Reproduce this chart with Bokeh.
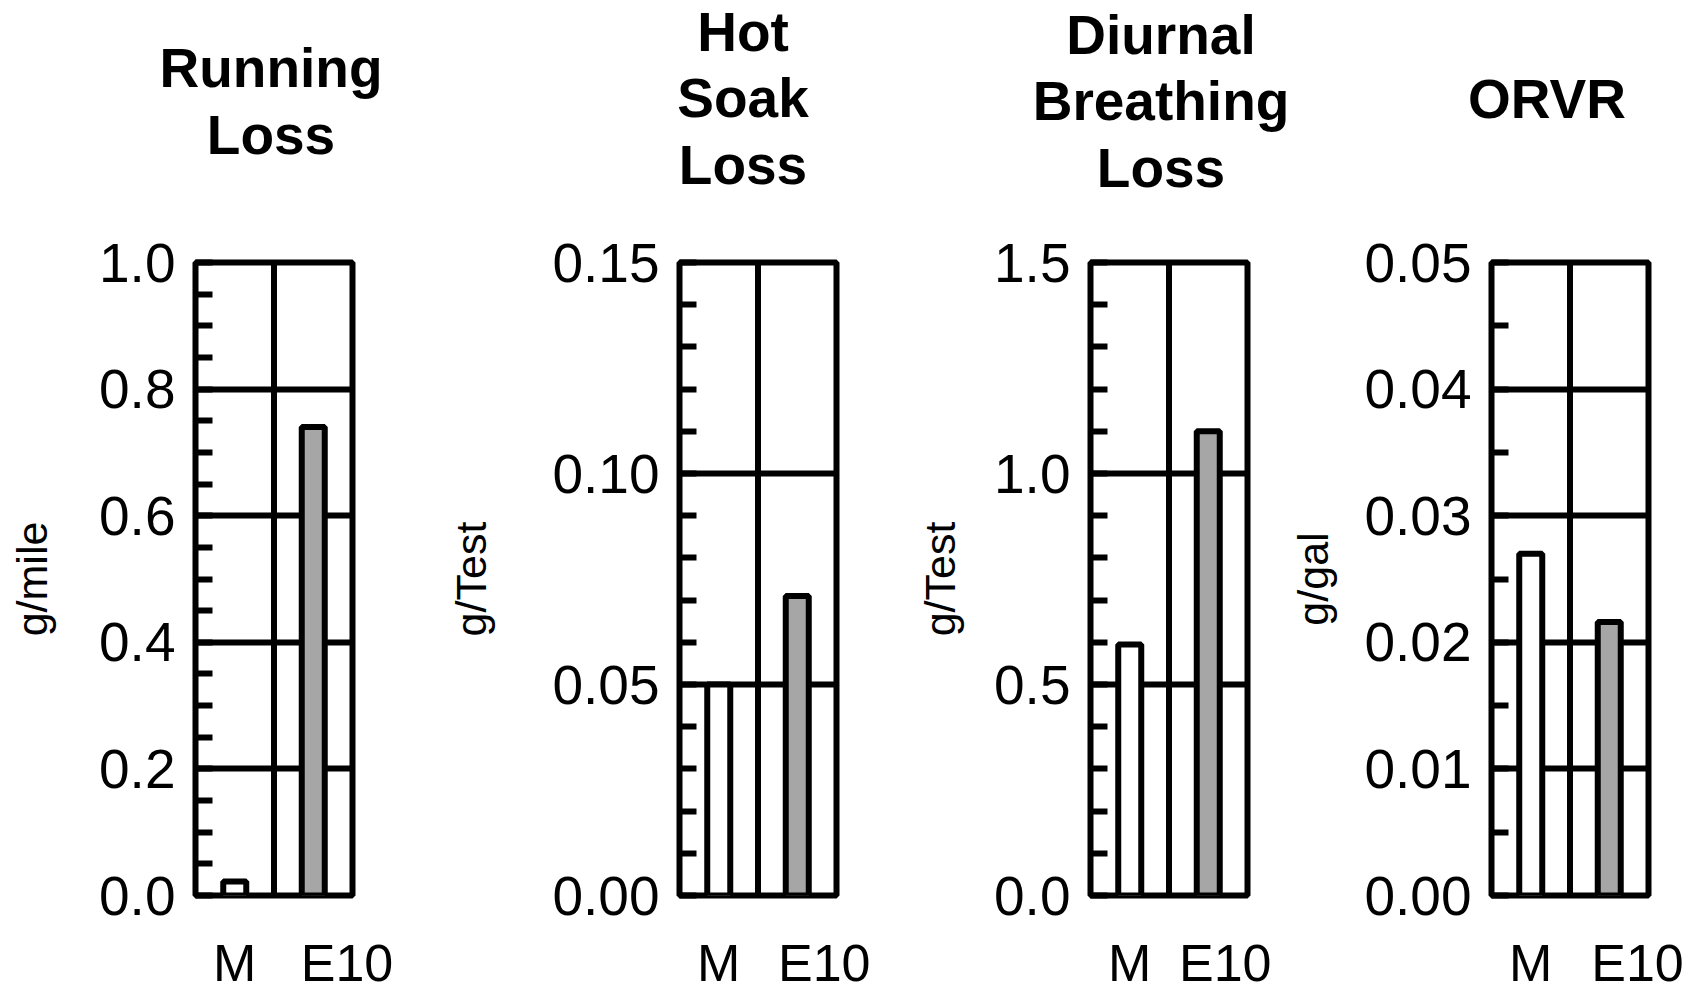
import numpy as np
from bokeh.plotting import figure
from bokeh.layouts import row, column
from bokeh.models import Range1d, FixedTicker, Span
from bokeh.embed import file_html
from bokeh.resources import INLINE

# ---------------- data ----------------
categories = ["M", "E10"]
titles = ["Running\nLoss", "Hot\nSoak\nLoss", "Diurnal\nBreathing\nLoss", "ORVR"]
units = ["g/mile", "g/Test", "g/Test", "g/gal"]

running_loss = [0.022, 0.74]
hot_soak_loss = [0.050, 0.071]
diurnal_breathing_loss = [0.595, 1.10]
orvr = [0.027, 0.0216]
series = [running_loss, hot_soak_loss, diurnal_breathing_loss, orvr]

y_max = [1.0, 0.15, 1.5, 0.05]
ticks_running = [0.0, 0.2, 0.4, 0.6, 0.8, 1.0]
labels_running = ["0.0", "0.2", "0.4", "0.6", "0.8", "1.0"]
ticks_hot = [0.0, 0.05, 0.10, 0.15]
labels_hot = ["0.00", "0.05", "0.10", "0.15"]
ticks_diurnal = [0.0, 0.5, 1.0, 1.5]
labels_diurnal = ["0.0", "0.5", "1.0", "1.5"]
ticks_orvr = [0.0, 0.01, 0.02, 0.03, 0.04, 0.05]
labels_orvr = ["0.00", "0.01", "0.02", "0.03", "0.04", "0.05"]
y_ticks = [ticks_running, ticks_hot, ticks_diurnal, ticks_orvr]
y_labels = [labels_running, labels_hot, labels_diurnal, labels_orvr]
minor_step = [0.05, 0.01, 0.1, 0.005]

# ---------------- style ----------------
FONT = "Liberation Sans"
LW = 6
FW, FH = 157, 633
TITLE_H = 220          # height of the title strip
TITLE_CY = 122         # title block centre, measured up from strip bottom
TOP, BOT = 42, 98
left_border = [195, 250, 220, 220]
right_border = [77, 34, 24, 40]
ylabel_standoff = [40, 54, 27, 24]
title_dx = [-3, -15, -8, -23]
title_dy = [-3, 0, -3, 0]
e10_nudge = [0.43, 0.45, 0.23, 0.36]
bar_fill = ["white", "#a6a6a6"]

widths = [left_border[i] + FW + right_border[i] for i in range(4)]
total_w = sum(widths)
starts = np.concatenate([[0], np.cumsum(widths)[:-1]])
title_x = [float(starts[i] + left_border[i] + FW / 2 + title_dx[i]) for i in range(4)]
title_y = [TITLE_CY + title_dy[i] for i in range(4)]

# ---- single title strip spanning all panels ----
t = figure(frame_width=int(total_w), frame_height=TITLE_H,
           x_range=Range1d(0, total_w), y_range=Range1d(0, TITLE_H),
           output_backend="svg", toolbar_location=None,
           x_axis_location=None, y_axis_location=None,
           min_border_left=0, min_border_right=0,
           min_border_top=0, min_border_bottom=0,
           outline_line_color=None)
t.xgrid.visible = False
t.ygrid.visible = False
t.text(x=title_x, y=title_y, text=titles,
       text_align="center", text_baseline="middle",
       text_font={"value": FONT}, text_font_size="55px",
       text_font_style="bold", text_color="black", text_line_height=1.07)

figs = []
for i in range(4):
    ymax = y_max[i]
    p = figure(frame_width=FW, frame_height=FH,
               x_range=Range1d(0, 2), y_range=Range1d(0, ymax),
               output_backend="svg", toolbar_location=None,
               min_border_left=left_border[i], min_border_right=right_border[i],
               min_border_top=TOP, min_border_bottom=BOT,
               background_fill_color="white", border_fill_color="white")
    p.outline_line_color = "black"
    p.outline_line_width = LW
    p.outline_line_alpha = 1.0

    # y axis
    minors = [float(v) for v in np.arange(0, ymax + minor_step[i] / 2, minor_step[i])]
    yt = FixedTicker(ticks=y_ticks[i], minor_ticks=minors)
    ya = p.yaxis[0]
    ya.ticker = yt
    ya.major_label_overrides = {tk: lab for tk, lab in zip(y_ticks[i], y_labels[i])}
    ya.axis_line_color = None
    ya.major_tick_line_color = None
    ya.major_tick_in = 0
    ya.major_tick_out = 0
    ya.minor_tick_in = 17
    ya.minor_tick_out = 0
    ya.minor_tick_line_color = "black"
    ya.minor_tick_line_width = LW
    ya.major_label_text_font = FONT
    ya.major_label_text_font_size = "55px"
    ya.major_label_text_color = "black"
    ya.major_label_standoff = 20
    ya.axis_label = units[i]
    ya.axis_label_text_font = FONT
    ya.axis_label_text_font_size = "43px"
    ya.axis_label_text_font_style = "normal"
    ya.axis_label_text_color = "black"
    ya.axis_label_standoff = ylabel_standoff[i]

    # x axis
    xpos = [0.5, 1.5 + e10_nudge[i]]
    xa = p.xaxis[0]
    xa.ticker = FixedTicker(ticks=xpos, minor_ticks=[])
    xa.major_label_overrides = {xpos[k]: categories[k] for k in range(2)}
    xa.axis_line_color = None
    xa.major_tick_line_color = None
    xa.major_tick_in = 0
    xa.major_tick_out = 0
    xa.minor_tick_line_color = None
    xa.major_label_text_font = FONT
    xa.major_label_text_font_size = "52px"
    xa.major_label_text_color = "black"
    xa.major_label_standoff = 38

    # grid
    p.xgrid.visible = False
    p.ygrid.ticker = yt
    p.ygrid.grid_line_color = "black"
    p.ygrid.grid_line_width = LW
    p.ygrid.grid_line_alpha = 1.0
    p.add_layout(Span(location=1, dimension="height", line_color="black", line_width=LW))

    # bars
    p.vbar(x=[0.5, 1.5], top=series[i], width=0.293, bottom=0,
           fill_color=bar_fill, line_color="black", line_width=LW)
    figs.append(p)

layout = column(t, row(*figs, spacing=0), spacing=0)
open("out.html", "w").write(file_html(layout, INLINE))
